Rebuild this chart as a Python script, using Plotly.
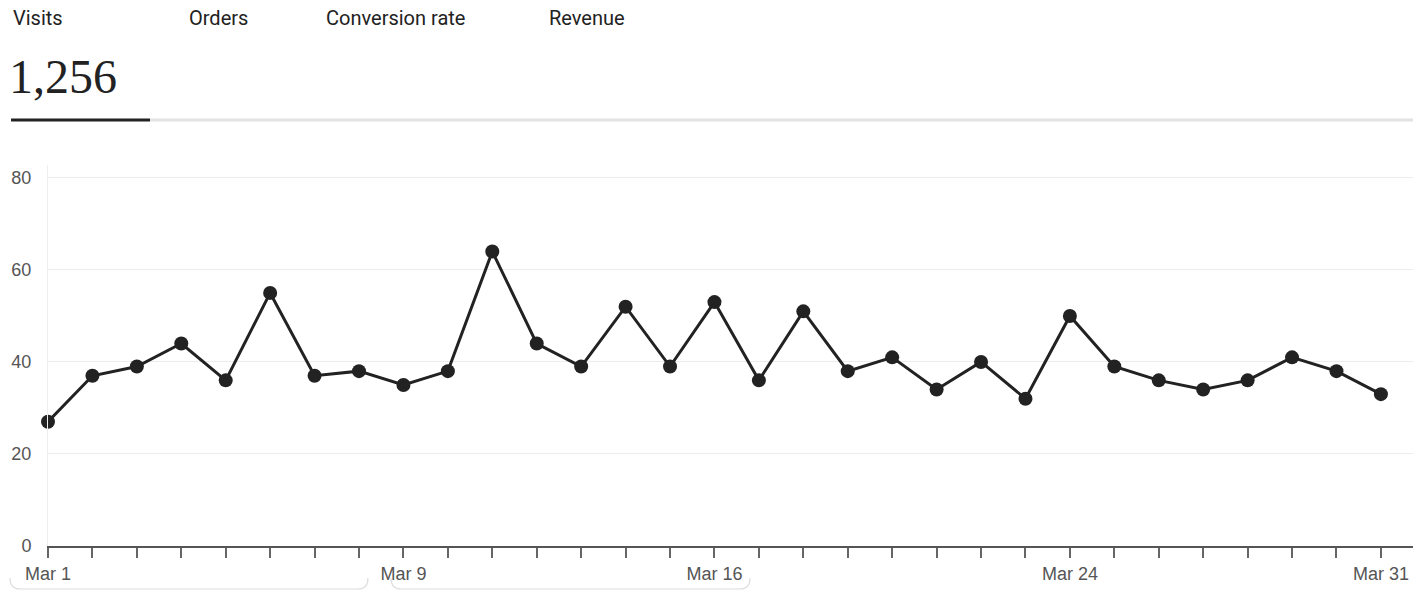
import plotly.graph_objects as go

# ---- data ----
dates = [f"2024-03-{d:02d}" for d in range(1, 32)]
visits = [27, 37, 39, 44, 36, 55, 37, 38, 35, 38,
          64, 44, 39, 52, 39, 53, 36, 51, 38, 41,
          34, 40, 32, 50, 39, 36, 34, 36, 41, 38, 33]
tab_labels = ["Visits", "Orders", "Conversion rate", "Revenue"]
total_label = "1,256"
labelled_days = {1: "Mar 1", 9: "Mar 9", 16: "Mar 16", 24: "Mar 24", 31: "Mar 31"}
y_ticks = [0, 20, 40, 60, 80]

W, H = 1420, 591
L, R, T, B = 48, 7, 165, 45
PW, PH = W - L - R, H - T - B


def px(x):
    return (x - L) / PW


def py(y):
    return (H - B - y) / PH


ticktext = [labelled_days.get(i + 1, "") for i in range(len(dates))]

fig = go.Figure()
fig.add_trace(go.Scatter(
    x=dates, y=visits, mode="lines+markers",
    line=dict(color="#222222", width=3),
    marker=dict(color="#222222", size=14),
    hoverinfo="skip", showlegend=False, cliponaxis=False,
))

annotations = []
tab_x = [11, 187, 324, 547]
for lab, x0 in zip(tab_labels, tab_x):
    annotations.append(dict(
        text=lab, x=px(x0), y=py(18), xref="paper", yref="paper",
        xanchor="left", yanchor="middle", showarrow=False,
        font=dict(family="Roboto", size=20, color="#222222", weight=400),
    ))
annotations.append(dict(
    text=total_label, x=px(7), y=py(76), xref="paper", yref="paper",
    xanchor="left", yanchor="middle", showarrow=False,
    font=dict(family="Liberation Serif", size=48, color="#222222"),
))

shapes = [
    dict(type="line", xref="paper", yref="paper", x0=px(150), x1=px(1413),
         y0=py(120), y1=py(120), line=dict(color="#e3e3e3", width=3)),
    dict(type="line", xref="paper", yref="paper", x0=px(11), x1=px(150),
         y0=py(120), y1=py(120), line=dict(color="#222222", width=3)),
]


def bracket(xa, xb):
    r = 10
    ya, yb = py(578), py(589)
    xa_p, xb_p = px(xa), px(xb)
    xr = r / PW
    return dict(
        type="path", xref="paper", yref="paper",
        path=(f"M {xa_p} {ya} Q {xa_p} {yb} {xa_p + xr} {yb} "
              f"L {xb_p - xr} {yb} Q {xb_p} {yb} {xb_p} {ya}"),
        line=dict(color="#dddddd", width=1.2),
    )


shapes.append(bracket(10, 368))
shapes.append(bracket(391, 750))

fig.update_layout(
    width=W, height=H,
    margin=dict(l=L, r=R, t=T, b=B),
    paper_bgcolor="white", plot_bgcolor="white",
    font=dict(family="Liberation Sans", color="#555555", size=18),
    annotations=annotations, shapes=shapes,
    xaxis=dict(
        type="date",
        range=["2024-03-01", "2024-03-31 17:20"],
        tickvals=dates, ticktext=ticktext,
        ticks="outside", ticklen=10, tickwidth=1.5, tickcolor="#666666",
        showline=True, linecolor="#555555", linewidth=2,
        showgrid=False, zeroline=False,
        tickfont=dict(family="Liberation Sans", size=18, color="#555555"),
    ),
    yaxis=dict(
        range=[0, 82.8], tickvals=y_ticks,
        showgrid=True, gridcolor="#ececec", gridwidth=1,
        showline=True, linecolor="#eeeeee", linewidth=1,
        zeroline=False, ticks="", ticklabelstandoff=12,
        tickfont=dict(family="Liberation Sans", size=18, color="#555555"),
    ),
)

fig.write_html("out.html")
